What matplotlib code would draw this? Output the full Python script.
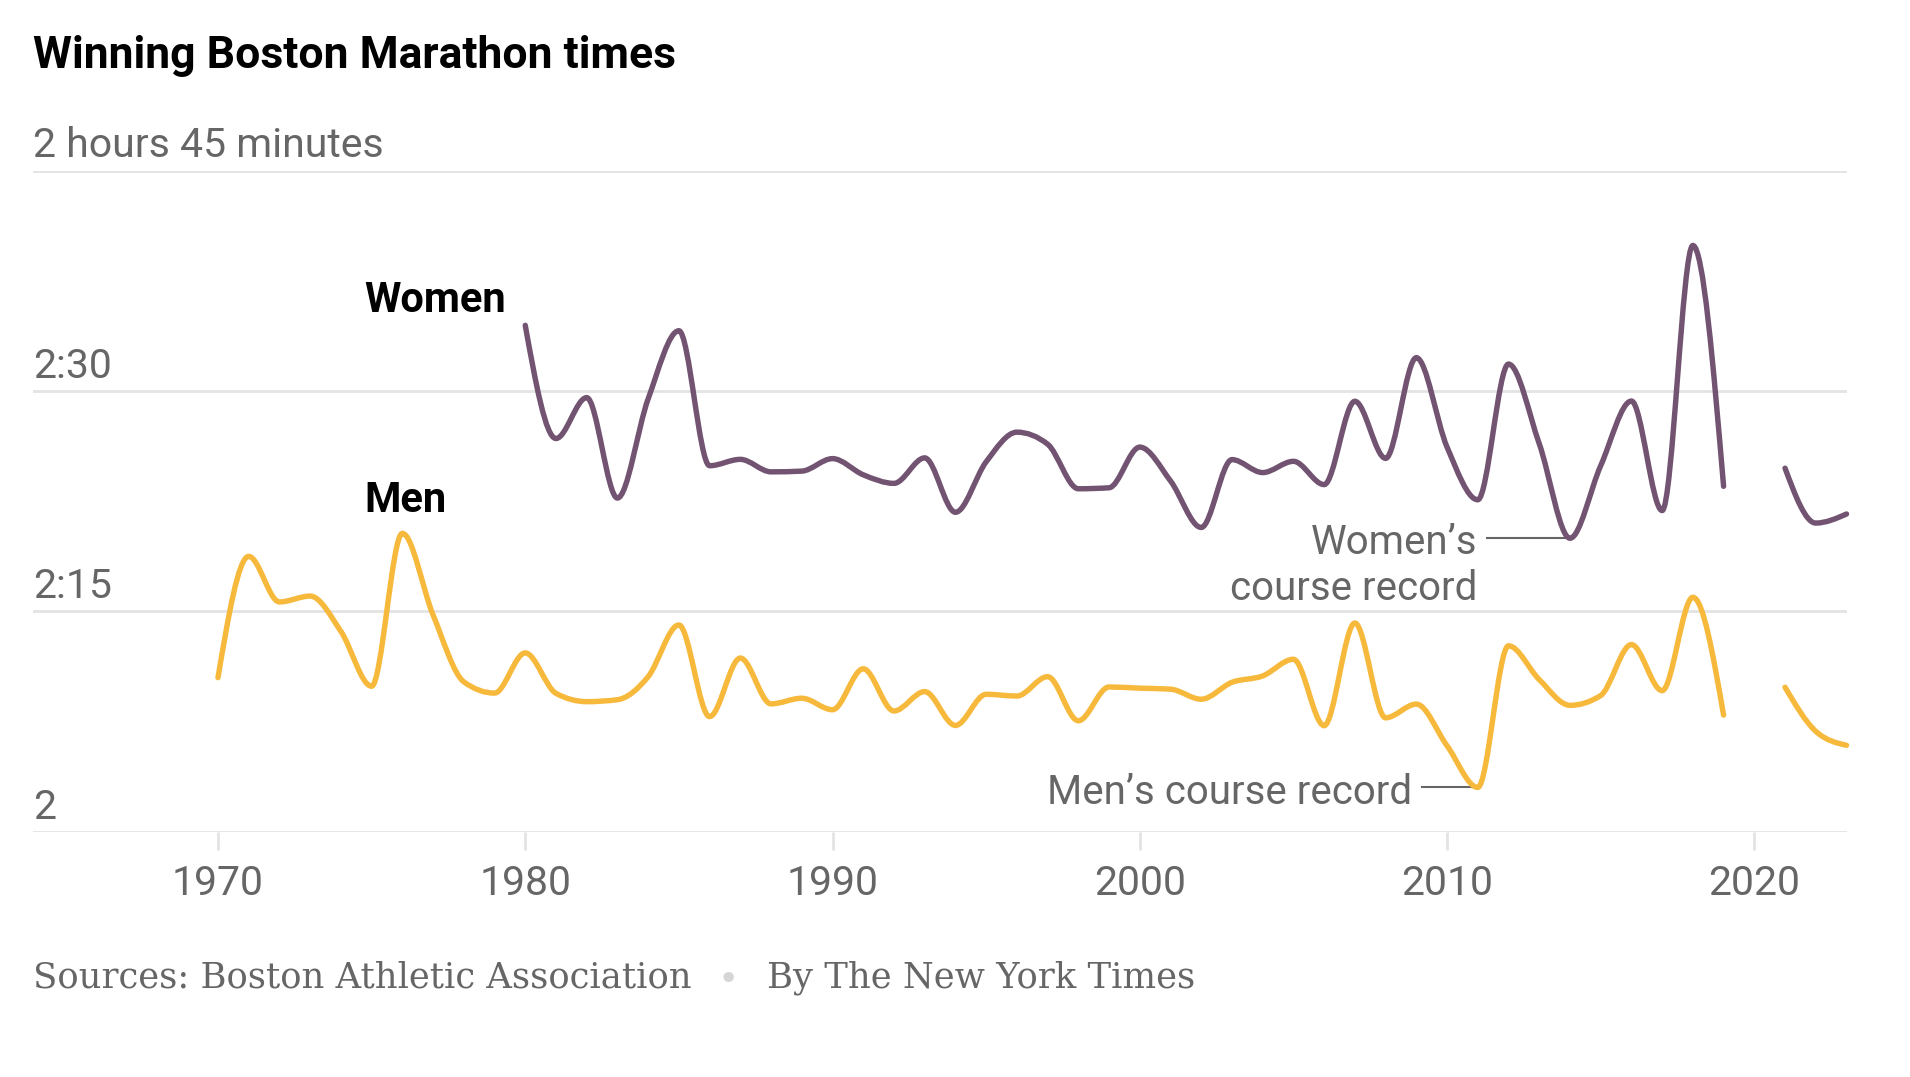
import numpy as np
import matplotlib
matplotlib.use("Agg")
import matplotlib.pyplot as plt
from matplotlib.path import Path
from matplotlib.patches import PathPatch

# Boston Marathon winning times (h:mm:ss); 2020 race was cancelled
men_years = [1970, 1971, 1972, 1973, 1974, 1975, 1976, 1977, 1978, 1979,
             1980, 1981, 1982, 1983, 1984, 1985, 1986, 1987, 1988, 1989,
             1990, 1991, 1992, 1993, 1994, 1995, 1996, 1997, 1998, 1999,
             2000, 2001, 2002, 2003, 2004, 2005, 2006, 2007, 2008, 2009,
             2010, 2011, 2012, 2013, 2014, 2015, 2016, 2017, 2018, 2019,
             2021, 2022, 2023]
men_times = ["2:10:30", "2:18:45", "2:15:39", "2:16:03", "2:13:39", "2:09:55",
             "2:20:19", "2:14:46", "2:10:13", "2:09:27", "2:12:11", "2:09:26",
             "2:08:52", "2:09:00", "2:10:34", "2:14:05", "2:07:51", "2:11:50",
             "2:08:43", "2:09:06", "2:08:19", "2:11:06", "2:08:14", "2:09:33",
             "2:07:15", "2:09:22", "2:09:15", "2:10:34", "2:07:34", "2:09:52",
             "2:09:47", "2:09:43", "2:09:02", "2:10:11", "2:10:37", "2:11:45",
             "2:07:14", "2:14:13", "2:07:46", "2:08:42", "2:05:52", "2:03:02",
             "2:12:40", "2:10:22", "2:08:37", "2:09:17", "2:12:45", "2:09:37",
             "2:15:58", "2:07:57", "2:09:51", "2:06:51", "2:05:54"]

women_years = [1980, 1981, 1982, 1983, 1984, 1985, 1986, 1987, 1988, 1989,
               1990, 1991, 1992, 1993, 1994, 1995, 1996, 1997, 1998, 1999,
               2000, 2001, 2002, 2003, 2004, 2005, 2006, 2007, 2008, 2009,
               2010, 2011, 2012, 2013, 2014, 2015, 2016, 2017, 2018, 2019,
               2021, 2022, 2023]
women_times = ["2:34:28", "2:26:46", "2:29:33", "2:22:43", "2:29:28", "2:34:06",
               "2:24:55", "2:25:21", "2:24:30", "2:24:33", "2:25:24", "2:24:18",
               "2:23:43", "2:25:27", "2:21:45", "2:25:11", "2:27:12", "2:26:23",
               "2:23:21", "2:23:25", "2:26:11", "2:23:53", "2:20:43", "2:25:20",
               "2:24:27", "2:25:13", "2:23:38", "2:29:18", "2:25:25", "2:32:16",
               "2:26:11", "2:22:36", "2:31:50", "2:26:25", "2:19:59", "2:24:55",
               "2:29:19", "2:21:52", "2:39:54", "2:23:31", "2:24:45", "2:21:01",
               "2:21:38"]

y_ticks = [120, 135, 150, 165]
y_labels = ["2", "2:15", "2:30", "2 hours 45 minutes"]
x_ticks = [1970, 1980, 1990, 2000, 2010, 2020]

WOMEN_COLOR = "#725371"
MEN_COLOR = "#f6b93b"
GRID = "#e3e3e3"
GRAY = "#666666"
SANS = ["Roboto", "DejaVu Sans"]
SERIF = ["DejaVu Serif"]


def to_minutes(t):
    h, m, s = (int(v) for v in t.split(":"))
    return h * 60 + m + s / 60


def monotone_path(x, y):
    # cubic bezier path like d3.curveMonotoneX
    x = np.asarray(x, float)
    y = np.asarray(y, float)
    n = len(x)
    h = np.diff(x)
    s = np.diff(y) / h
    t = np.zeros(n)
    sgn = lambda v: -1.0 if v < 0 else 1.0
    for i in range(1, n - 1):
        p = (s[i - 1] * h[i] + s[i] * h[i - 1]) / (h[i - 1] + h[i])
        t[i] = (sgn(s[i - 1]) + sgn(s[i])) * min(abs(s[i - 1]), abs(s[i]), 0.5 * abs(p))
    if n > 2:
        t[0] = (3 * s[0] - t[1]) / 2
        t[-1] = (3 * s[-1] - t[-2]) / 2
    else:
        t[:] = s[0]
    verts = [(x[0], y[0])]
    codes = [Path.MOVETO]
    for i in range(n - 1):
        d = h[i] / 3
        verts += [(x[i] + d, y[i] + d * t[i]), (x[i + 1] - d, y[i + 1] - d * t[i + 1]), (x[i + 1], y[i + 1])]
        codes += [Path.CURVE4] * 3
    return Path(verts, codes)


def draw_series(ax, years, times, color):
    years = np.array(years)
    vals = np.array([to_minutes(t) for t in times])
    # split at the gap (2020 cancelled)
    breaks = np.where(np.diff(years) > 1)[0] + 1
    for yy, vv in zip(np.split(years, breaks), np.split(vals, breaks)):
        ax.add_patch(PathPatch(monotone_path(yy, vv), fill=False, edgecolor=color,
                               lw=3.9, capstyle="round", joinstyle="round",
                               zorder=3, clip_on=False))
    return years, vals


fig = plt.figure(figsize=(19.10, 10.77), dpi=100)
ax = fig.add_axes([33 / 1910, 245 / 1077, 1813.5 / 1910, 661.5 / 1077])
ax.set_xlim(1963.98, 2023.0)
ax.set_ylim(120, 165)
for sp in ax.spines.values():
    sp.set_visible(False)
ax.set_yticks([])
ax.set_xticks(x_ticks)
ax.set_xticklabels([str(v) for v in x_ticks], fontsize=29.5, color=GRAY, family=SANS)
ax.tick_params(axis="x", length=13, width=2, color=GRID, pad=10)

for v, lab in zip(y_ticks, y_labels):
    ax.axhline(v, color=GRID, lw=2, zorder=1)
    ax.annotate(lab, (0, v), xycoords=("axes fraction", "data"), xytext=(0, 9.5),
                textcoords="offset points", ha="left", va="baseline",
                fontsize=29.5, color=GRAY, family=SANS)

wy, wv = draw_series(ax, women_years, women_times, WOMEN_COLOR)
my, mv = draw_series(ax, men_years, men_times, MEN_COLOR)

ax.text(1974.75, 156.15, "Women", fontsize=30, fontweight="bold", color="black",
        family=SANS, ha="left", va="center")
ax.text(1974.75, 142.55, "Men", fontsize=30, fontweight="bold", color="black",
        family=SANS, ha="left", va="center")

# course record call-outs
wi = int(np.argmin(wv))
ax.plot([2011.3, wy[wi]], [wv[wi], wv[wi]], color=GRAY, lw=1.5, zorder=2)
ax.annotate("Women\u2019s", (2011.0, wv[wi]), xytext=(0, -3), textcoords="offset points",
            fontsize=29, color=GRAY, family=SANS, ha="right", va="center")
ax.annotate("course record", (2011.0, wv[wi]), xytext=(0, -36), textcoords="offset points",
            fontsize=29, color=GRAY, family=SANS, ha="right", va="center")
mi = int(np.argmin(mv))
ax.plot([2009.2, my[mi]], [mv[mi], mv[mi]], color=GRAY, lw=1.5, zorder=2)
ax.annotate("Men\u2019s course record", (2008.85, mv[mi]), xytext=(0, -3.5),
            textcoords="offset points", fontsize=29, color=GRAY, family=SANS,
            ha="right", va="center")

fig.text(33 / 1910, 1 - 56 / 1077, "Winning Boston Marathon times", fontsize=32,
         fontweight="bold", family=SANS, ha="left", va="center")
fig.text(33 / 1910, 1 - 978 / 1077, "Sources: Boston Athletic Association", fontsize=25.5,
         family=SERIF, color=GRAY, ha="left", va="center")
fig.text(728 / 1910, 1 - 980 / 1077, "\u2022", fontsize=26, color="#d6d6d6",
         family=SERIF, ha="center", va="center")
fig.text(767 / 1910, 1 - 978 / 1077, "By The New York Times", fontsize=25.5,
         family=SERIF, color=GRAY, ha="left", va="center")

fig.savefig("out.png", dpi=100, facecolor="white")
